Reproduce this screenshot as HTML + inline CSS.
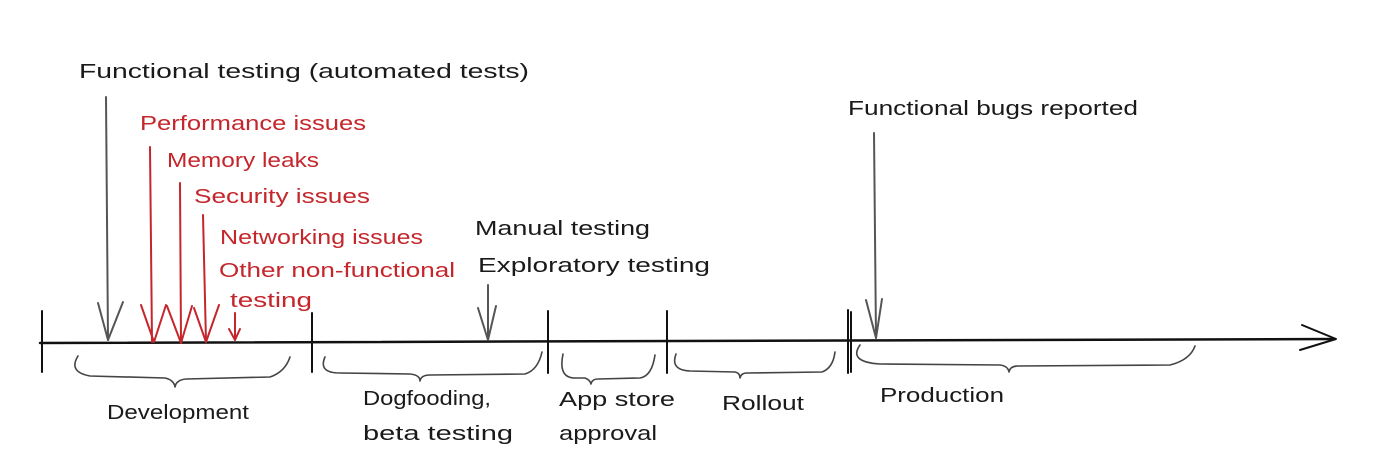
<!DOCTYPE html>
<html><head><meta charset="utf-8"><style>
html,body{margin:0;padding:0;background:#fff;}
svg{display:block;}
text{font-family:"Liberation Sans",sans-serif;font-size:20px;fill:#1a1a1a;}
.r{fill:#c4262b;}
</style></head><body>
<svg width="1400" height="463" viewBox="0 0 1400 463" xmlns="http://www.w3.org/2000/svg">
<g fill="none" stroke-linecap="round" stroke-linejoin="round">
<!-- main axis -->
<path d="M40 343 L1335 339" stroke="#111" stroke-width="2.5"/>
<path d="M1302 325 L1336 339 L1300 350" stroke="#111" stroke-width="2"/>
<!-- ticks -->
<g stroke="#111" stroke-width="2">
<path d="M42 311 L42 372"/><path d="M312 313 L312 372"/><path d="M548 311 L548 373"/><path d="M667 311 L667 373"/><path d="M848 310 L848 373"/><path d="M851 312 L851 372"/>
</g>
<!-- gray arrows -->
<g stroke="#555" stroke-width="2">
<path d="M106 97 L108 340"/><path d="M98 303 L108 340 L123 302"/>
<path d="M488 285 L488 340"/><path d="M478 308 L488 340 L496 306"/>
<path d="M874 133 L876 338"/><path d="M866 300 L876 338 L882 299"/>
</g>
<!-- red arrows -->
<g stroke="#c4262b" stroke-width="2">
<path d="M150 147 L152 342"/><path d="M141 305 L154 342 L166 305"/>
<path d="M180 183 L181 343"/><path d="M167 306 L181 343 L192 306"/>
<path d="M203 215 L206 342"/><path d="M194 308 L206 342 L219 305"/>
<path d="M235 313 L235 340"/><path d="M229 329 L235 340 L240 329"/>
</g>
<!-- braces -->
<g stroke="#444" stroke-width="1.6">
<path d="M78 356 Q68 372 90 376 L165 378 Q174 380 175 387 Q176 380 186 379 L270 377 Q285 372 290 357"/>
<path d="M325 357 Q318 373 340 373 L410 374 Q420 375 420 381 Q421 375 430 375 L525 374 Q538 370 542 352"/>
<path d="M563 354 Q558 378 575 378 L585 378 Q590 380 591 384 Q592 379 598 379 L640 378 Q652 376 655 355"/>
<path d="M676 354 Q670 370 690 371 L735 372 Q740 373 740 378 Q741 373 747 373 L822 372 Q833 368 835 352"/>
<path d="M860 345 Q848 362 880 364 L1000 365 Q1008 366 1009 372 Q1010 366 1018 366 L1170 365 Q1190 360 1195 346"/>
</g>
</g>
<text x="79" y="78" textLength="450" lengthAdjust="spacingAndGlyphs" font-size="22">Functional testing (automated tests)</text>
<text class="r" x="140" y="130" textLength="226" lengthAdjust="spacingAndGlyphs">Performance issues</text>
<text class="r" x="167" y="167" textLength="152" lengthAdjust="spacingAndGlyphs">Memory leaks</text>
<text class="r" x="194" y="203" textLength="176" lengthAdjust="spacingAndGlyphs">Security issues</text>
<text class="r" x="220" y="244" textLength="203" lengthAdjust="spacingAndGlyphs">Networking issues</text>
<text class="r" x="219" y="277" textLength="236" lengthAdjust="spacingAndGlyphs">Other non-functional</text>
<text class="r" x="230" y="307" textLength="82" lengthAdjust="spacingAndGlyphs">testing</text>
<text x="475" y="235" textLength="175" lengthAdjust="spacingAndGlyphs">Manual testing</text>
<text x="478" y="272" textLength="232" lengthAdjust="spacingAndGlyphs">Exploratory testing</text>
<text x="848" y="115" textLength="290" lengthAdjust="spacingAndGlyphs">Functional bugs reported</text>
<text x="107" y="419" textLength="142" lengthAdjust="spacingAndGlyphs">Development</text>
<text x="363" y="405" textLength="128" lengthAdjust="spacingAndGlyphs">Dogfooding,</text>
<text x="363" y="440" textLength="150" lengthAdjust="spacingAndGlyphs">beta testing</text>
<text x="559" y="406" textLength="116" lengthAdjust="spacingAndGlyphs">App store</text>
<text x="559" y="440" textLength="98" lengthAdjust="spacingAndGlyphs">approval</text>
<text x="722" y="410" textLength="82" lengthAdjust="spacingAndGlyphs">Rollout</text>
<text x="880" y="402" textLength="124" lengthAdjust="spacingAndGlyphs">Production</text>
</svg>
</body></html>
